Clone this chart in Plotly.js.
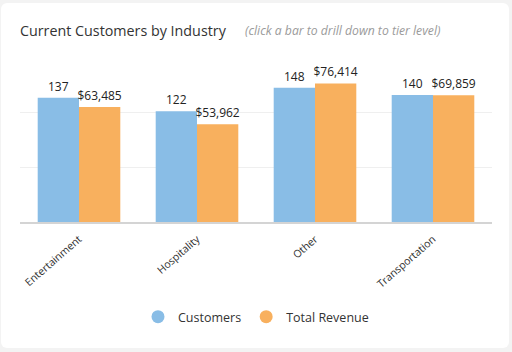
<!DOCTYPE html>
<html>
<head>
<meta charset="utf-8">
<script src="https://cdn.plot.ly/plotly-3.0.1.min.js"></script>
<style>
  html, body { margin:0; padding:0; background:#f3f3f3; width:512px; height:352px; overflow:hidden; }
  #card { position:absolute; left:1px; top:3px; width:508px; height:345px; background:#ffffff; border-radius:6px; }
  #chart { position:absolute; left:0; top:0; width:512px; height:352px; }
</style>
</head>
<body>
<div id="card"></div>
<div id="chart"></div>
<script>
const industries = ["Entertainment", "Hospitality", "Other", "Transportation"];
const customers = [137, 122, 148, 140];
const revenue = [63485, 53962, 76414, 69859];
const customerLabels = ["137", "122", "148", "140"];
const revenueLabels = ["$63,485", "$53,962", "$76,414", "$69,859"];
const titleText = "Current Customers by Industry";
const subtitleText = "(click a bar to drill down to tier level)";

const blue = "#89bde6";
const orange = "#f8b05e";

const traces = [
  {
    type: "bar", x: industries, y: customers, name: "Customers",
    yaxis: "y", width: 0.35, offset: -0.35,
    marker: { color: blue },
    text: customerLabels, textposition: "outside", cliponaxis: false, constraintext: "none",
    textfont: { family: "Open Sans", size: 12, color: "#222" },
    showlegend: false, hoverinfo: "x+y"
  },
  {
    type: "bar", x: industries, y: revenue, name: "Total Revenue",
    yaxis: "y2", width: 0.35, offset: 0,
    marker: { color: orange },
    text: revenueLabels, textposition: "outside", cliponaxis: false, constraintext: "none",
    textfont: { family: "Open Sans", size: 12, color: "#222" },
    showlegend: false, hoverinfo: "x+y"
  },
  {
    type: "scatter", mode: "markers", x: [null], y: [null], name: "Customers",
    marker: { color: blue, size: 13, symbol: "circle" }, showlegend: true
  },
  {
    type: "scatter", mode: "markers", x: [null], y: [null], name: "Total Revenue",
    marker: { color: orange, size: 13, symbol: "circle" }, showlegend: true
  }
];

const layout = {
  width: 512, height: 352,
  paper_bgcolor: "rgba(0,0,0,0)", plot_bgcolor: "rgba(0,0,0,0)",
  margin: { l: 20, r: 20, t: 57, b: 130 },
  font: { family: "Open Sans", color: "#333" },
  title: {
    text: titleText,
    xref: "container", yref: "container", x: 20/512, xanchor: "left",
    y: 1 - 31/352, yanchor: "middle",
    font: { family: "Open Sans", size: 14.3, color: "#333" }
  },
  annotations: [{
    text: "<i>" + subtitleText + "</i>", xref: "paper", yref: "paper",
    x: (243 - 20) / 472, xanchor: "left", y: 1 + (57 - 30) / 165, yanchor: "middle",
    showarrow: false, font: { family: "Open Sans", size: 12.2, color: "#9a9a9a" }
  }],
  xaxis: {
    type: "category", tickangle: -41, showgrid: false, zeroline: false,
    showline: true, linecolor: "#d4d4d4", linewidth: 2, ticks: "", ticklabelstandoff: 5,
    tickfont: { family: "Open Sans", size: 10.5, color: "#333" }
  },
  yaxis: {
    range: [0, 181.8], tickvals: [60.6, 121.2, 181.8], showticklabels: false,
    showgrid: true, gridcolor: "#efefef", gridwidth: 1, zeroline: false, showline: false, fixedrange: true
  },
  yaxis2: {
    overlaying: "y", side: "right", range: [0, 91000],
    showticklabels: false, showgrid: false, zeroline: false, showline: false, fixedrange: true
  },
  legend: {
    orientation: "h", x: 0.5, xanchor: "center", y: 1 - 317/352, yref: "container", yanchor: "middle",
    font: { family: "Open Sans", size: 12.5, color: "#333" }, itemwidth: 30
  },
  showlegend: true
};

Plotly.newPlot("chart", traces, layout, { displayModeBar: false });
</script>
</body>
</html>
